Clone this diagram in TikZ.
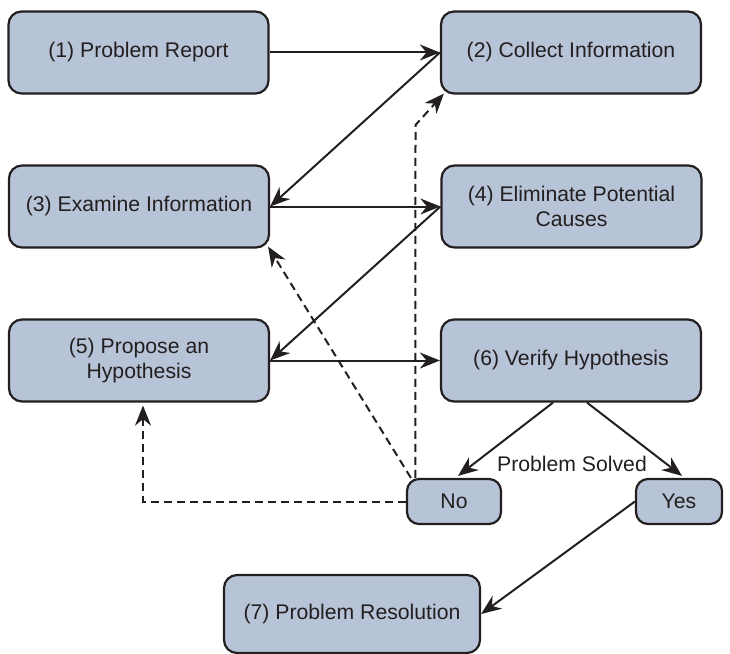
\documentclass[tikz,border=0pt]{standalone}
\usepackage{fontspec}
\setmainfont{Liberation Sans}
\usetikzlibrary{arrows.meta,calc}
\definecolor{boxfill}{HTML}{B7C3D6}
\definecolor{ink}{HTML}{231F20}
\tikzset{
  stepbox/.style={draw=ink, line width=2.2bp, fill=boxfill, rounded corners=13bp,
    minimum width=260bp, minimum height=82bp, inner sep=0pt, align=center,
    text=ink, font=\fontsize{21.2bp}{25bp}\selectfont},
  smallbox/.style={stepbox, minimum width=94bp, minimum height=45bp, rounded corners=12bp},
  arr/.style={draw=ink, line width=2bp, -{Stealth[length=20bp,width=16bp,inset=6.5bp]}},
  dasharr/.style={arr, dash pattern=on 8bp off 5bp},
  lbl/.style={text=ink, font=\fontsize{21.2bp}{25bp}\selectfont, inner sep=0pt}
}
\begin{document}
\begin{tikzpicture}[x=1bp,y=-1bp]
\useasboundingbox (0,0) rectangle (730,654);
\node[stepbox] (p1) at (138.5,52.5) {(1) Problem Report};
\node[stepbox] (p2) at (571,52.5) {(2) Collect Information};
\node[stepbox] (p3) at (139,206.5) {(3) Examine Information};
\node[stepbox] (p4) at (571.5,206.5) {(4) Eliminate Potential\\Causes};
\node[stepbox] (p5) at (139,360.5) {(5) Propose an\\Hypothesis};
\node[stepbox] (p6) at (571,360.5) {(6) Verify Hypothesis};
\node[smallbox] (no) at (454,501.5) {No};
\node[smallbox, minimum width=86bp] (yes) at (679,501.5) {Yes};
\node[stepbox, minimum width=256bp, minimum height=78bp] (p7) at (352,614) {(7) Problem Resolution};
\node[lbl] (ps) at (572,464) {Problem Solved};

\draw[arr] (p1.east) -- (p2.west);
\draw[arr] (p2.west) -- (p3.east);
\draw[arr] (p3.east) -- (p4.west);
\draw[arr] (p4.west) -- (p5.east);
\draw[arr] (p5.east) -- (p6.west);
\draw[arr] ($(p6.south)+(-18,0)$) -- ($(no.north)+(4,-2)$);
\draw[arr] ($(p6.south)+(16,0)$) -- ($(yes.north)+(3,-2)$);
\draw[arr] (yes.west) -- (p7.east);

\coordinate (bend) at (415.5,125);
\draw[dasharr] ($(no.north west)+(9.5,0)$) -- (bend) -- ($(p2.south west)+(4,-1)$);
\draw[dasharr] ($(no.north west)+(5,0)$) -- ($(p3.south east)+(-2,-2)$);
\draw[dasharr] (no.west) -| ($(p5.south)+(4,3)$);
\end{tikzpicture}
\end{document}
